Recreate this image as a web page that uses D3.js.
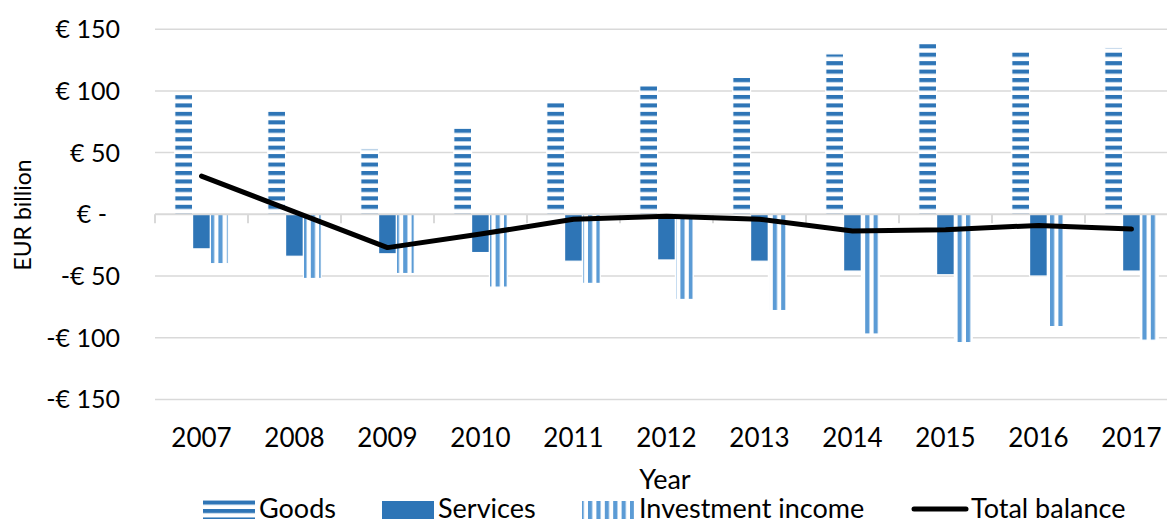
<!DOCTYPE html>
<html>
<head>
<meta charset="utf-8">
<script src="https://cdn.jsdelivr.net/npm/d3@7"></script>
<style>
  html, body { margin: 0; padding: 0; background: #fff; }
  svg { display: block; }
  text { font-family: Lato, "Open Sans", sans-serif; fill: #000; }
</style>
</head>
<body>
<svg id="chart" width="1167" height="519"></svg>
<script>
const years = ["2007","2008","2009","2010","2011","2012","2013","2014","2015","2016","2017"];
const goods = [97, 84, 53, 70, 91, 105, 112, 130, 139, 132, 135];
const services = [-28, -34, -32, -31, -38, -37, -38, -46, -49, -50, -46];
const investment = [-40, -52, -48, -59, -56, -69, -78, -97, -104, -91, -102];
const totalBalance = [31, 2, -27, -16, -4, -1.5, -4, -13.5, -12.5, -9, -12];
const yTicks = [150, 100, 50, 0, -50, -100, -150];
const yTickLabels = ["€ 150", "€ 100", "€ 50", "€ -", "-€ 50", "-€ 100", "-€ 150"];
const seriesNames = ["Goods", "Services", "Investment income"];

const svg = d3.select("#chart");
const dark = "#2e75b6", light = "#5b9bd5", grid = "#d9d9d9";

const x = d3.scaleBand().domain(years).range([155, 1178]).paddingInner(0).paddingOuter(0);
const y = d3.scaleLinear().domain([-150, 150]).range([399.4, 29.2]);
const groupW = 53.5;
const xs = d3.scaleBand().domain(seriesNames).range([0, groupW]);

const defs = svg.append("defs");
const pg = defs.append("pattern").attr("id", "pGoods").attr("patternUnits", "userSpaceOnUse")
  .attr("width", 10).attr("height", 8.45).attr("y", 2);
pg.append("rect").attr("width", 10).attr("height", 8.45).attr("fill", "#fff");
pg.append("rect").attr("y", 0).attr("width", 10).attr("height", 4.1).attr("fill", dark);
const pi = defs.append("pattern").attr("id", "pInv").attr("patternUnits", "userSpaceOnUse")
  .attr("width", 8.4).attr("height", 10).attr("x", 0);
pi.append("rect").attr("width", 8.4).attr("height", 10).attr("fill", "#fff");
pi.append("rect").attr("x", 0).attr("width", 4.2).attr("height", 10).attr("fill", light);

// gridlines
svg.append("g").selectAll("line").data(yTicks.filter(d => d !== 0)).join("line")
  .attr("x1", 155).attr("x2", 1167)
  .attr("y1", d => y(d)).attr("y2", d => y(d))
  .attr("stroke", grid).attr("stroke-width", 1.5);

// y labels
svg.append("g").selectAll("text").data(yTicks).join("text")
  .attr("x", (d, i) => d === 0 ? 107 : 120)
  .attr("y", d => y(d)).attr("dy", "0.36em")
  .attr("text-anchor", "end").attr("font-size", 25)
  .text((d, i) => yTickLabels[i]);

svg.append("text").attr("transform", "translate(31,215) rotate(-90)")
  .attr("text-anchor", "middle").attr("font-size", 23).text("EUR billion");

// bars
const barData = [];
years.forEach((yr, i) => {
  barData.push({yr, s: "Goods", v: goods[i]});
  barData.push({yr, s: "Services", v: services[i]});
  barData.push({yr, s: "Investment income", v: investment[i]});
});
const fills = {"Goods": "url(#pGoods)", "Services": dark, "Investment income": "url(#pInv)"};
svg.append("g").selectAll("rect").data(barData).join("rect")
  .attr("x", d => x(d.yr) + (x.bandwidth() - groupW) / 2 + xs(d.s))
  .attr("width", xs.bandwidth())
  .attr("y", d => y(Math.max(0, d.v)))
  .attr("height", d => Math.abs(y(d.v) - y(0)))
  .attr("fill", d => fills[d.s])
  .attr("stroke", "#fff").attr("stroke-width", 1.2);

// zero axis with ticks
svg.append("line").attr("x1", 155).attr("x2", 1167).attr("y1", y(0)).attr("y2", y(0))
  .attr("stroke", grid).attr("stroke-width", 2);
const bounds = years.map(d => x(d)).concat([x(years[years.length - 1]) + x.bandwidth()]);
svg.append("g").selectAll("line").data(bounds).join("line")
  .attr("x1", d => d).attr("x2", d => d).attr("y1", y(0)).attr("y2", y(0) + 9)
  .attr("stroke", grid).attr("stroke-width", 2);

// x labels
svg.append("g").selectAll("text").data(years).join("text")
  .attr("x", d => x(d) + x.bandwidth() / 2).attr("y", 447)
  .attr("text-anchor", "middle").attr("font-size", 26).text(d => d);
svg.append("text").attr("x", 665).attr("y", 489).attr("text-anchor", "middle")
  .attr("font-size", 27).text("Year");

// line
const line = d3.line().x((d, i) => x(years[i]) + x.bandwidth() / 2).y(d => y(d));
svg.append("path").datum(totalBalance).attr("d", line)
  .attr("fill", "none").attr("stroke", "#000").attr("stroke-width", 5)
  .attr("stroke-linejoin", "round").attr("stroke-linecap", "round");

// legend
const lg = svg.append("g");
lg.append("rect").attr("x", 203).attr("y", 500).attr("width", 52).attr("height", 19).attr("fill", "url(#pGoods)");
lg.append("text").attr("x", 259).attr("y", 518).attr("font-size", 27).text(seriesNames[0]);
lg.append("rect").attr("x", 382).attr("y", 501).attr("width", 52).attr("height", 18).attr("fill", dark);
lg.append("text").attr("x", 438).attr("y", 518).attr("font-size", 27).text(seriesNames[1]);
lg.append("rect").attr("x", 582).attr("y", 501).attr("width", 52).attr("height", 18).attr("fill", "url(#pInv)");
lg.append("text").attr("x", 639).attr("y", 518).attr("font-size", 27).text(seriesNames[2]);
lg.append("line").attr("x1", 914).attr("x2", 966).attr("y1", 509).attr("y2", 509)
  .attr("stroke", "#000").attr("stroke-width", 5).attr("stroke-linecap", "round");
lg.append("text").attr("x", 971).attr("y", 518).attr("font-size", 27).text("Total balance");
</script>
</body>
</html>
